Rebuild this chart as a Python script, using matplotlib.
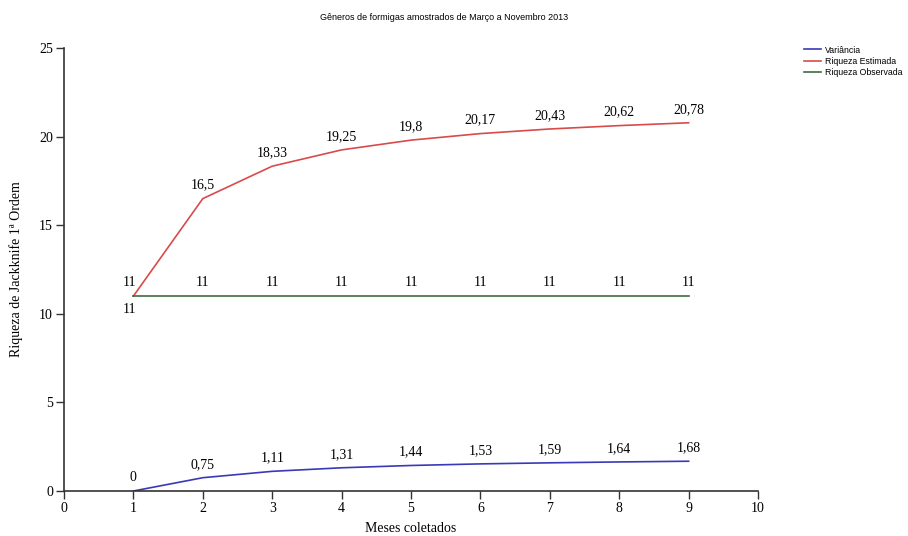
import matplotlib
matplotlib.use('Agg')
import matplotlib.pyplot as plt

meses = [1, 2, 3, 4, 5, 6, 7, 8, 9]
variancia = [0, 0.75, 1.11, 1.31, 1.44, 1.53, 1.59, 1.64, 1.68]
estimada = [11, 16.5, 18.33, 19.25, 19.8, 20.17, 20.43, 20.62, 20.78]
observada = [11, 11, 11, 11, 11, 11, 11, 11, 11]

var_lbl = ['0', '0,75', '1,11', '1,31', '1,44', '1,53', '1,59', '1,64', '1,68']
est_lbl = ['11', '16,5', '18,33', '19,25', '19,8', '20,17', '20,43', '20,62', '20,78']
obs_lbl = ['11'] * 9

fig = plt.figure(figsize=(9.08, 5.36), dpi=100)
ax = fig.add_axes([64/908, 1-491/536, (758-64)/908, (491-48)/536])

serif = 'Liberation Serif'
sans = 'Liberation Sans'

ax.plot(meses, variancia, color='#3a3ab8', lw=1.2, label='Variância')
ax.plot(meses, estimada, color='#d94a4a', lw=1.2, label='Riqueza Estimada')
ax.plot(meses, observada, color='#3f6b3f', lw=1.2, label='Riqueza Observada')

for i, x in enumerate(meses):
    ax.annotate(var_lbl[i], (x, variancia[i]), xytext=(0, 5), textcoords='offset points',
                ha='center', va='bottom', fontsize=10, family=serif)
    dx = -3 if i == 0 else 0
    ax.annotate(est_lbl[i], (x, estimada[i]), xytext=(dx, 5), textcoords='offset points',
                ha='center', va='bottom', fontsize=10, family=serif)
    if i == 0:
        ax.annotate(obs_lbl[i], (x, observada[i]), xytext=(-3, -5), textcoords='offset points',
                    ha='center', va='top', fontsize=10, family=serif)
    else:
        ax.annotate(obs_lbl[i], (x, observada[i]), xytext=(0, 5), textcoords='offset points',
                    ha='center', va='bottom', fontsize=10, family=serif)

ax.set_xlim(0, 10)
ax.set_ylim(0, 25)
ax.set_xticks(range(0, 11))
ax.set_yticks(range(0, 26, 5))
for lab in ax.get_xticklabels() + ax.get_yticklabels():
    lab.set_family(serif)
    lab.set_fontsize(10)
ax.tick_params(direction='out', length=6, width=1, color='#333333', pad=2)
for s in ['top', 'right']:
    ax.spines[s].set_visible(False)
for s in ['left', 'bottom']:
    ax.spines[s].set_color('#333333')
    ax.spines[s].set_linewidth(1.2)

fig.text(411/908, 1 - 529/536, 'Meses coletados', family=serif, fontsize=10,
         ha='center', va='center')
fig.text(16/908, 1 - 269/536, 'Riqueza de Jackknife 1ª Ordem', family=serif, fontsize=10,
         ha='center', va='center', rotation=90)

fig.text(0.5 - 10/908, 1 - 18/536, 'Gêneros de formigas amostrados de Março a Novembro 2013',
         ha='center', va='center', fontsize=6.5, family=sans)

fig.legend(loc='upper left', bbox_to_anchor=(800/908, 1 - 42/536), frameon=False,
           prop={'family': sans, 'size': 6.3}, handlelength=2.0, handletextpad=0.5,
           labelspacing=0.25, borderaxespad=0)

fig.savefig('out.png', dpi=100)
